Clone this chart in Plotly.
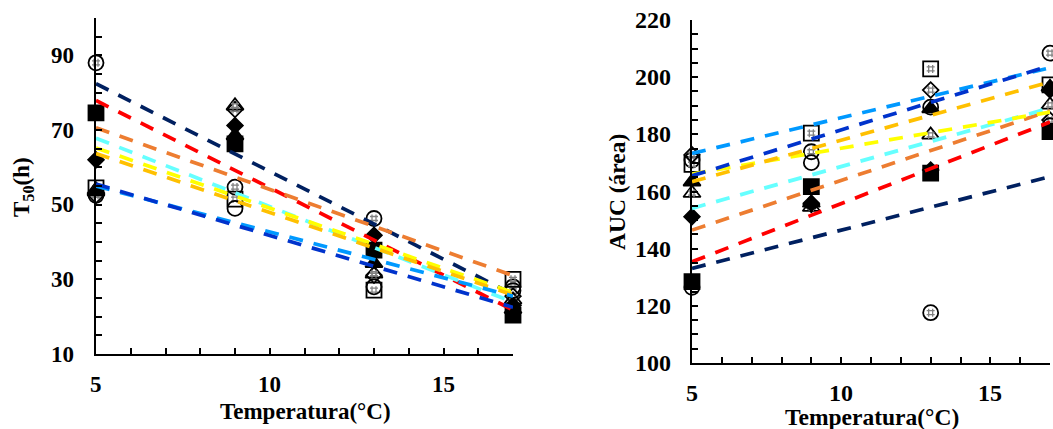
import plotly.graph_objects as go

temps = [5, 9, 13, 17]

# ---- T50 (h) marker series (left panel) ----
t50_circle_h = [88.0, 54.7, 46.3, 28.0]
t50_square_h = [54.5, 51.5, 27.1, 30.0]
t50_diamond_h = [52.5, 75.5, 31.1, 25.5]
t50_triangle_h = [54.0, 76.5, 31.5, 24.5]
t50_square_f = [74.6, 66.3, 37.8, 20.4]
t50_diamond_f = [62.0, 71.2, 41.8, 23.0]
t50_triangle_f = [53.5, 68.5, 34.3, 22.0]
t50_circle_o = [52.5, 49.0, 28.0, 27.0]

# ---- AUC (área) marker series (right panel) ----
auc_circle_h = [171.0, 173.9, 117.6, 208.4]
auc_square_h = [169.5, 180.4, 202.9, 197.3]
auc_diamond_h = [172.8, 155.5, 195.5, 185.0]
auc_triangle_h = [159.4, 154.5, 179.8, 190.3]
auc_square_f = [128.5, 161.7, 166.4, 181.0]
auc_diamond_f = [151.2, 155.9, 167.5, 195.5]
auc_triangle_f = [163.4, 156.0, 189.0, 196.5]
auc_circle_o = [126.5, 170.1, 189.5, 183.0]

# ---- trend lines (value at 5 °C and at 17 °C) ----
line_x = [5, 17]
line_colors = ["#002060", "#FF0000", "#ED7D31", "#66FFFF",
               "#FFFF00", "#FFC000", "#0099FF", "#0033CC"]
t50_line_start = [82.4, 77.9, 70.6, 67.8, 65.2, 63.7, 55.0, 55.5]
t50_line_end = [26.0, 21.8, 31.0, 23.9, 26.5, 25.8, 25.5, 22.5]
auc_line_start = [133.1, 135.4, 146.5, 154.1, 166.1, 163.4, 173.3, 165.5]
auc_line_end = [165.2, 184.3, 188.2, 189.2, 187.8, 198.3, 203.3, 204.0]

# ---- tick labels and axis titles ----
temp_ticks = [5, 10, 15]
t50_ticks = [10, 30, 50, 70, 90]
auc_ticks = [100, 120, 140, 160, 180, 200, 220]
x_title = "Temperatura(°C)"
t50_title = "T<sub>50</sub>(h)"
auc_title = "AUC (área)"

FONT = "Liberation Serif"
W, H = 1053, 429

SIZES = {"circle-open": 15, "square-open": 15, "square": 15,
         "diamond-open": 12, "diamond": 12,
         "triangle-up-open": 15, "triangle-up": 15}

left_series = [
    (t50_circle_h, "circle-open", True), (t50_square_h, "square-open", True),
    (t50_diamond_h, "diamond-open", True), (t50_triangle_h, "triangle-up-open", True),
    (t50_square_f, "square", False), (t50_diamond_f, "diamond", False),
    (t50_triangle_f, "triangle-up", False), (t50_circle_o, "circle-open", False),
]
right_series = [
    (auc_circle_h, "circle-open", True), (auc_square_h, "square-open", True),
    (auc_diamond_h, "diamond-open", True), (auc_triangle_h, "triangle-up-open", True),
    (auc_square_f, "square", False), (auc_diamond_f, "diamond", False),
    (auc_triangle_f, "triangle-up", False), (auc_circle_o, "circle-open", False),
]

fig = go.Figure()


def add_markers(series, xa, ya):
    for vals, sym, hatch in series:
        fig.add_trace(go.Scatter(
            x=temps, y=vals, mode="markers", xaxis=xa, yaxis=ya,
            cliponaxis=False, showlegend=False, hoverinfo="skip",
            marker=dict(symbol=sym, size=SIZES[sym], color="black",
                        line=dict(color="black", width=1.8))))
        if hatch:
            fig.add_trace(go.Scatter(
                x=temps, y=vals, mode="markers", xaxis=xa, yaxis=ya,
                cliponaxis=False, showlegend=False, hoverinfo="skip",
                marker=dict(symbol="hash-open", size=8, color="#808080",
                            line=dict(color="#808080", width=1.3))))


def add_lines(starts, ends, xa, ya):
    for s, e, c in zip(starts, ends, line_colors):
        fig.add_trace(go.Scatter(
            x=line_x, y=[s, e], mode="lines", xaxis=xa, yaxis=ya,
            showlegend=False, hoverinfo="skip",
            line=dict(color=c, width=3.7, dash="14px,11px")))


add_markers(left_series, "x", "y")
add_lines(t50_line_start, t50_line_end, "x", "y")
add_markers(right_series, "x2", "y2")
add_lines(auc_line_start, auc_line_end, "x2", "y2")


def bfont(size):
    return dict(family=FONT, size=size, color="black", weight="bold")


def xax(domain, anchor):
    return dict(domain=domain, anchor=anchor, range=[5, 17], tickvals=temp_ticks,
                showticklabels=False,
                showline=True, linecolor="black", linewidth=2,
                ticks="inside", ticklen=6, tickwidth=1.5, tickcolor="black",
                minor=dict(dtick=1, tick0=5, ticks="inside", ticklen=6,
                           tickwidth=1.5, tickcolor="black"),
                showgrid=False, zeroline=False, automargin=False)


def yax(domain, anchor, rng, ticks):
    return dict(domain=domain, anchor=anchor, range=rng, tickvals=ticks,
                showticklabels=False,
                showline=True, linecolor="black", linewidth=2,
                ticks="inside", ticklen=6, tickwidth=1.5, tickcolor="black",
                minor=dict(dtick=5, ticks="inside", ticklen=6,
                           tickwidth=1.5, tickcolor="black"),
                showgrid=False, zeroline=False, automargin=False)


def title_ann(text, px, py, size, angle=0):
    return dict(text=text, x=px / W, y=1 - py / H, xref="paper", yref="paper",
                xanchor="center", yanchor="middle", showarrow=False,
                textangle=angle, font=bfont(size))


anns = [
    title_ann(x_title, 305, 411, 23),
    title_ann(x_title, 872, 417, 23.5),
    title_ann(t50_title, 23, 187, 23, -90),
    title_ann(auc_title, 617, 192, 23.5, -90),
]
# x tick labels (placed at data x, fixed distance below each axis)
for v in temp_ticks:
    anns.append(dict(text=str(v), x=v, xref="x", y=1 - 384.5 / H, yref="paper",
                     xanchor="center", yanchor="middle", showarrow=False,
                     font=bfont(23)))
    anns.append(dict(text=str(v), x=v, xref="x2", y=1 - 393 / H, yref="paper",
                     xanchor="center", yanchor="middle", showarrow=False,
                     font=bfont(24)))
# y tick labels (placed at data y, right-aligned left of each axis)
for v in t50_ticks:
    anns.append(dict(text=str(v), x=76 / W, xref="paper", y=v, yref="y",
                     xanchor="right", yanchor="middle", showarrow=False,
                     font=bfont(23)))
for v in auc_ticks:
    anns.append(dict(text=str(v), x=673 / W, xref="paper", y=v, yref="y2",
                     xanchor="right", yanchor="middle", showarrow=False,
                     font=bfont(24)))

fig.update_layout(
    width=W, height=H,
    margin=dict(l=0, r=0, t=0, b=0),
    paper_bgcolor="white", plot_bgcolor="white",
    xaxis=xax([96 / W, 513 / W], "y"),
    yaxis=yax([1 - 354 / H, 1 - 18 / H], "x", [10, 100], t50_ticks),
    xaxis2=xax([692 / W, 1050 / W], "y2"),
    yaxis2=yax([1 - 363 / H, 1 - 20 / H], "x2", [100, 220], auc_ticks),
    annotations=anns,
)

fig.write_html("out.html")
